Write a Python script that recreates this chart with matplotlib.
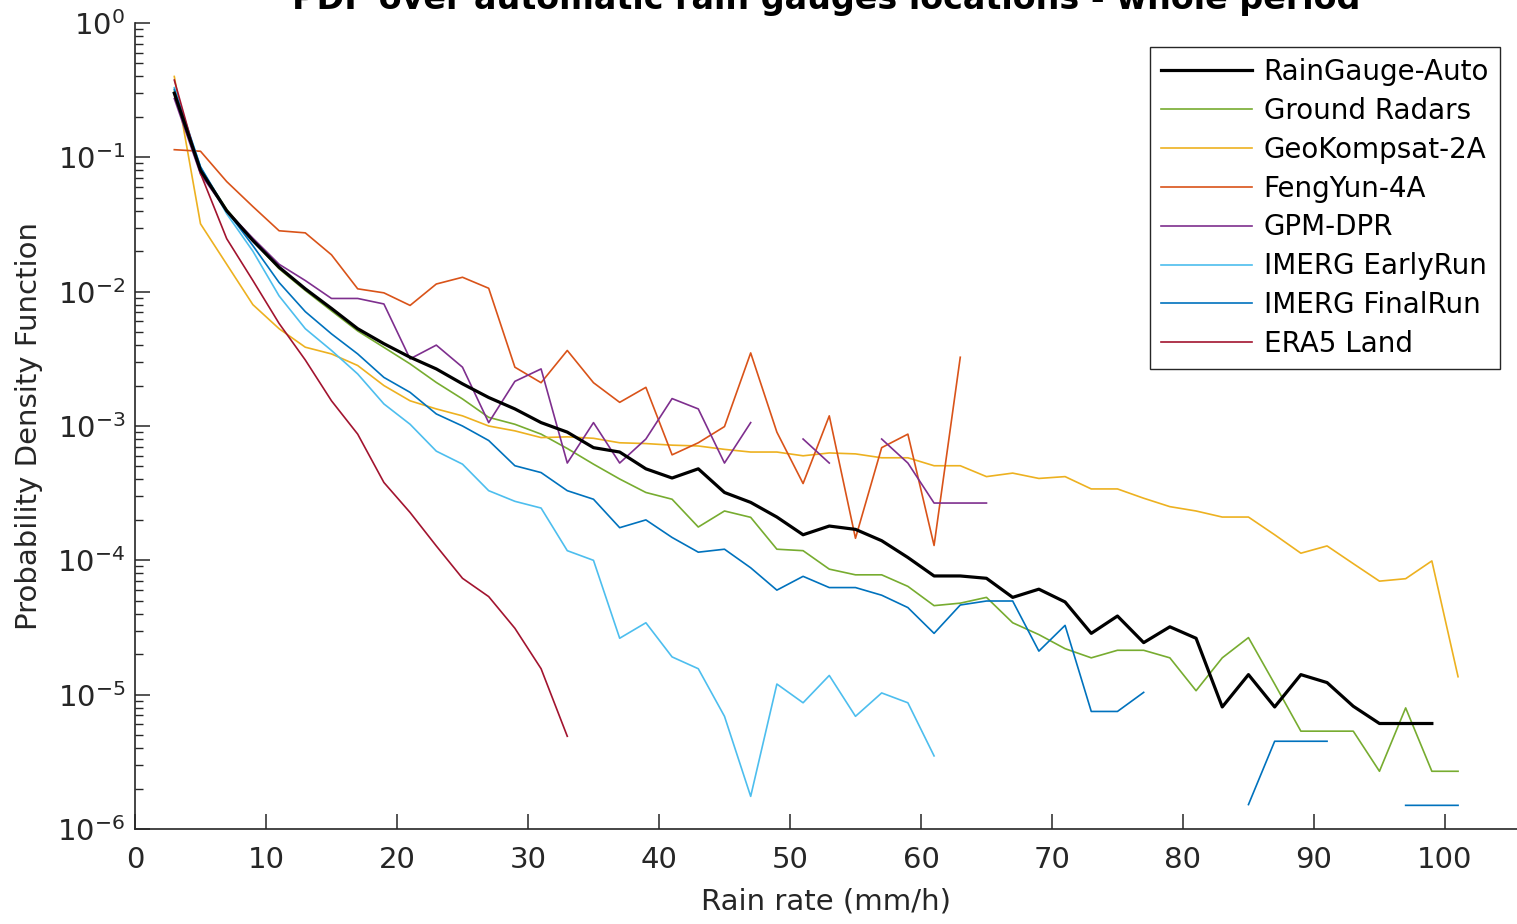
import numpy as np
import matplotlib.pyplot as plt

nan = np.nan

# bin centres (mm/h)
rain_rate = [3, 5, 7, 9, 11, 13, 15, 17, 19, 21, 23, 25, 27, 29, 31, 33, 35, 37, 39, 41,
             43, 45, 47, 49, 51, 53, 55, 57, 59, 61, 63, 65, 67, 69, 71, 73, 75, 77, 79, 81,
             83, 85, 87, 89, 91, 93, 95, 97, 99, 101]

gauge_auto = [0.30, 0.080, 0.040, 0.024, 0.0152, 0.0105, 0.0075, 0.0053, 0.0041, 0.00325,
              0.00266, 0.00206, 0.00163, 0.00134, 0.00106, 0.00090, 0.00069, 0.00064, 0.00048, 0.00041,
              0.00048, 0.00032, 0.00027, 0.00021, 0.000155, 0.00018, 0.00017, 0.00014, 0.000105, 7.65e-5,
              7.65e-5, 7.35e-5, 5.3e-5, 6.1e-5, 4.9e-5, 2.86e-5, 3.85e-5, 2.44e-5, 3.2e-5, 2.63e-5,
              8.1e-6, 1.41e-5, 8.1e-6, 1.41e-5, 1.23e-5, 8.2e-6, 6.1e-6, 6.1e-6, 6.1e-6, nan]

ground_radars = [0.31, 0.082, 0.041, 0.024, 0.0148, 0.0102, 0.0072, 0.0051, 0.00385, 0.0029,
                 0.00211, 0.00159, 0.00116, 0.00103, 0.00087, 0.00068, 0.00052, 0.000403, 0.00032, 0.000285,
                 0.000177, 0.000233, 0.000209, 0.000121, 0.000118, 8.6e-5, 7.8e-5, 7.8e-5, 6.4e-5, 4.6e-5,
                 4.8e-5, 5.3e-5, 3.43e-5, 2.8e-5, 2.2e-5, 1.88e-5, 2.14e-5, 2.14e-5, 1.88e-5, 1.07e-5,
                 1.88e-5, 2.66e-5, 1.2e-5, 5.35e-6, 5.35e-6, 5.35e-6, 2.69e-6, 7.97e-6, 2.69e-6, 2.69e-6]

geokompsat = [0.40, 0.032, 0.016, 0.0080, 0.0053, 0.00386, 0.00344, 0.00282, 0.0020, 0.00154,
              0.00134, 0.00119, 0.00100, 0.00092, 0.00082, 0.00083, 0.00081, 0.00075, 0.00074, 0.00072,
              0.00071, 0.00067, 0.00064, 0.00064, 0.00060, 0.00063, 0.00062, 0.00058, 0.00058, 0.000506,
              0.000506, 0.00042, 0.000446, 0.000407, 0.00042, 0.00034, 0.00034, 0.00029, 0.000251, 0.000233,
              0.00021, 0.00021, 0.000155, 0.000113, 0.000128, 9.45e-5, 7.0e-5, 7.3e-5, 9.9e-5, 1.36e-5]

fengyun = [0.114, 0.111, 0.066, 0.043, 0.0284, 0.0274, 0.0188, 0.0105, 0.0098, 0.0079,
           0.0114, 0.0128, 0.0106, 0.00274, 0.0021, 0.00365, 0.0021, 0.0015, 0.00194, 0.00061,
           0.00075, 0.00099, 0.0035, 0.0009, 0.000373, 0.00119, 0.000146, 0.00069, 0.00087, 0.000129,
           0.00325, nan, nan, nan, nan, nan, nan, nan, nan, nan,
           nan, nan, nan, nan, nan, nan, nan, nan, nan, nan]

gpm_dpr = [0.274, 0.075, 0.040, 0.025, 0.0160, 0.0121, 0.0089, 0.0089, 0.0081, 0.00316,
           0.0040, 0.00274, 0.00106, 0.00215, 0.00266, 0.00053, 0.00106, 0.00053, 0.0008, 0.0016,
           0.00134, 0.00053, 0.00106, nan, 0.0008, 0.00053, nan, 0.0008, 0.00053, 0.000267,
           0.000267, 0.000267, nan, nan, nan, nan, nan, nan, nan, nan,
           nan, nan, nan, nan, nan, nan, nan, nan, nan, nan]

imerg_early = [0.33, 0.085, 0.038, 0.020, 0.0093, 0.0053, 0.00365, 0.00244, 0.00146, 0.00103,
               0.00065, 0.00052, 0.00033, 0.000275, 0.000245, 0.000118, 0.0001, 2.63e-5, 3.43e-5, 1.91e-5,
               1.56e-5, 6.9e-6, 1.75e-6, 1.2e-5, 8.7e-6, 1.39e-5, 6.9e-6, 1.03e-5, 8.7e-6, 3.5e-6,
               nan, nan, nan, nan, nan, nan, nan, nan, nan, nan,
               nan, nan, nan, nan, nan, nan, nan, nan, nan, nan]

imerg_final = [0.32, 0.085, 0.040, 0.022, 0.0117, 0.0071, 0.00485, 0.00344, 0.0023, 0.00178,
               0.00123, 0.0010, 0.00078, 0.000506, 0.00045, 0.00033, 0.000285, 0.000175, 0.0002, 0.000148,
               0.000115, 0.000121, 8.8e-5, 6.0e-5, 7.6e-5, 6.27e-5, 6.27e-5, 5.5e-5, 4.45e-5, 2.86e-5,
               4.65e-5, 4.98e-5, 4.98e-5, 2.11e-5, 3.28e-5, 7.5e-6, 7.5e-6, 1.04e-5, nan, nan,
               nan, 1.52e-6, 4.5e-6, 4.5e-6, 4.5e-6, nan, nan, 1.5e-6, 1.5e-6, 1.5e-6]

era5_land = [0.376, 0.076, 0.0248, 0.0121, 0.0058, 0.0031, 0.00154, 0.00087, 0.00038, 0.000227,
             0.000128, 7.35e-5, 5.37e-5, 3.12e-5, 1.56e-5, 4.9e-6, nan, nan, nan, nan,
             nan, nan, nan, nan, nan, nan, nan, nan, nan, nan,
             nan, nan, nan, nan, nan, nan, nan, nan, nan, nan,
             nan, nan, nan, nan, nan, nan, nan, nan, nan, nan]

labels = ["RainGauge-Auto", "Ground Radars", "GeoKompsat-2A", "FengYun-4A",
          "GPM-DPR", "IMERG EarlyRun", "IMERG FinalRun", "ERA5 Land"]
series = [gauge_auto, ground_radars, geokompsat, fengyun, gpm_dpr, imerg_early, imerg_final, era5_land]
colors = ["black", "#77AC30", "#EDB120", "#D95319", "#7E2F8E", "#4DBEEE", "#0072BD", "#A2142F"]

plt.rcParams.update({"font.size": 20, "font.family": "DejaVu Sans"})
axcol = "#262626"

fig = plt.figure(figsize=(15.17, 9.24), dpi=100)
ax = fig.add_axes([135 / 1517, 95 / 924, 1382 / 1517, 806 / 924])

for lab, ys, col in zip(labels, series, colors):
    if lab == "RainGauge-Auto":
        ax.plot(rain_rate, ys, color=col, lw=2.3, label=lab, zorder=5)
    else:
        ax.plot(rain_rate, ys, color=col, lw=1.2, label=lab, zorder=3)

ax.set_yscale("log")
ax.set_ylim(1e-6, 1)
ax.set_xlim(0, 105.5)
ax.set_xticks(range(0, 101, 10))

for s in ["top", "right"]:
    ax.spines[s].set_visible(False)
for s in ["left", "bottom"]:
    ax.spines[s].set_color(axcol)
    ax.spines[s].set_linewidth(1.2)

ax.tick_params(which="major", direction="in", length=10.5, width=1.1, colors=axcol,
               labelsize=21, pad=7)
ax.tick_params(which="minor", direction="in", length=5.5, width=1.0, colors=axcol)
ax.tick_params(axis="x", which="major", pad=12)

ax.set_xlabel("Rain rate (mm/h)", color=axcol, fontsize=21, labelpad=10)
ax.set_ylabel("Probability Density Function", color=axcol, fontsize=21, labelpad=10)

fig.text(0.5 + 0.5 * 135 / 1517, 1 - 9 / 924,
         "PDF over automatic rain gauges locations - whole period",
         ha="center", va="baseline", fontsize=24, fontweight="bold")

leg = ax.legend(loc="upper right", bbox_to_anchor=((1500 - 135) / 1382, (829 - 47) / 806),
                borderaxespad=0, fancybox=False, framealpha=1, edgecolor=axcol,
                fontsize=20, handlelength=3.3, labelspacing=0.39, borderpad=0.4,
                handletextpad=0.4)
leg.get_frame().set_linewidth(1.0)

fig.savefig("out.png", dpi=100)
